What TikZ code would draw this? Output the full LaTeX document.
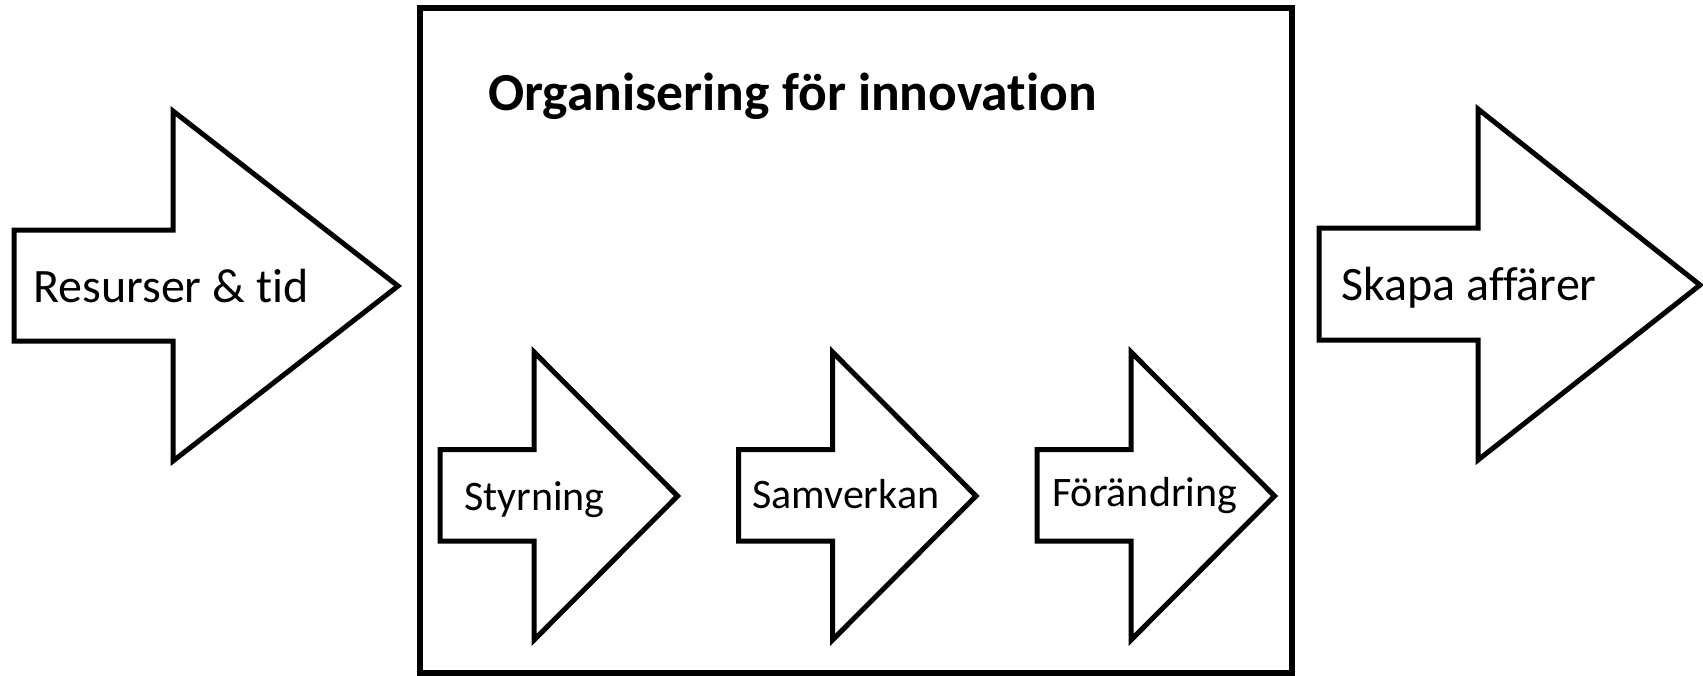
\documentclass[tikz,border=0pt]{standalone}
\usepackage{fontspec}
\setmainfont{Carlito}[RawFeature=-liga]
\begin{document}
\begin{tikzpicture}[x=1pt,y=-1pt,
  outline/.style={draw=black,line width=5pt,fill=white,line join=miter},
  boxline/.style={draw=black,line width=6pt,fill=white},
  bigtext/.style={anchor=base west,inner sep=0pt,font=\fontsize{48}{58}\selectfont},
  smalltext/.style={anchor=base west,inner sep=0pt,font=\fontsize{42}{50}\selectfont},
  titletext/.style={anchor=base west,inner sep=0pt,font=\bfseries\fontsize{53.5}{62}\selectfont}]
\useasboundingbox (0,0) rectangle (1703,675);
% outer box
\node[boxline,rectangle,minimum width=872pt,minimum height=665pt,inner sep=0pt] (box) at (856,340.5) {};
\node[titletext] (title) at (488,110) {Organisering för innovation};
% left arrow
\draw[outline] (14,230) -- (173,230) -- (173,111) -- (398,286) -- (173,461) -- (173,341) -- (14,341) -- cycle;
\node[bigtext] (res) at (33,302) {Resurser \& tid};
% right arrow
\draw[outline] (1319,228) -- (1478,228) -- (1478,109) -- (1700,285) -- (1478,460) -- (1478,340) -- (1319,340) -- cycle;
\node[bigtext] (skapa) at (1341,300) {Skapa affärer};
% small arrows
\foreach \L in {440,738.5,1037}{
  \draw[outline] (\L,449.5) -- (\L+94,449.5) -- (\L+94,352) -- (\L+237.5,496) -- (\L+94,640) -- (\L+94,541) -- (\L,541) -- cycle;
}
\node[smalltext] (styr) at (464,510) {Styrning};
\node[smalltext] (samv) at (752,508) {Samverkan};
\node[smalltext] (forand) at (1052,506) {Förändring};
\end{tikzpicture}
\end{document}
